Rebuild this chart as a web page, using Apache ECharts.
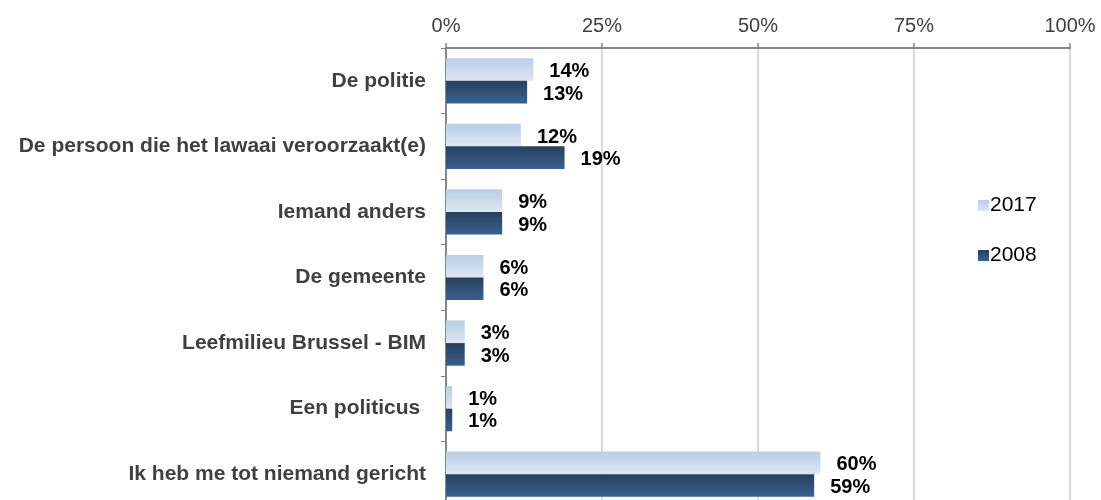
<!DOCTYPE html>
<html>
<head>
<meta charset="utf-8">
<script src="https://cdn.jsdelivr.net/npm/echarts@6/dist/echarts.min.js"></script>
<style>
  html, body { margin: 0; padding: 0; background: #fff; }
  #chart { width: 1101px; height: 500px; }
</style>
</head>
<body>
<div id="chart"></div>
<script>
var categories = [
  'De politie',
  'De persoon die het lawaai veroorzaakt(e)',
  'Iemand anders',
  'De gemeente',
  'Leefmilieu Brussel - BIM',
  'Een politicus ',
  'Ik heb me tot niemand gericht'
];
var values2017 = [14, 12, 9, 6, 3, 1, 60];
var values2008 = [13, 19, 9, 6, 3, 1, 59];

var chart = echarts.init(document.getElementById('chart'));

var font = "'Liberation Sans', Arial, sans-serif";

var labelOpt = {
  show: true,
  position: 'right',
  distance: 16,
  offset: [0, 2],
  formatter: '{c}%',
  color: '#000',
  fontWeight: 'bold',
  fontSize: 20,
  fontFamily: font
};

chart.setOption({
  animation: false,
  legend: {
    orient: 'vertical',
    left: 973,
    top: 190,
    itemGap: 29,
    itemWidth: 11,
    itemHeight: 11,
    icon: 'rect',
    data: ['2017', '2008'],
    textStyle: { color: '#000', fontSize: 21, fontFamily: font, padding: [0, 0, 0, -4] }
  },
  grid: {
    left: 446,
    right: 31,
    top: 48,
    height: 459,
    outerBoundsMode: 'none'
  },
  xAxis: {
    type: 'value',
    position: 'top',
    min: 0,
    max: 100,
    interval: 25,
    axisLine: { show: true, lineStyle: { color: '#868686', width: 2 } },
    axisTick: { show: true, length: 5, lineStyle: { color: '#868686', width: 1.5 } },
    axisLabel: {
      formatter: '{value}%',
      color: '#404040',
      fontSize: 20,
      fontFamily: font,
      margin: 12
    },
    splitLine: { show: true, lineStyle: { color: '#d9d9d9', width: 2 } }
  },
  yAxis: {
    type: 'category',
    inverse: true,
    data: categories,
    axisLine: { show: true, lineStyle: { color: '#868686', width: 2 } },
    axisTick: { show: true, length: 5, lineStyle: { color: '#868686' } },
    axisLabel: {
      color: '#404040',
      fontWeight: 'bold',
      fontSize: 21,
      fontFamily: font,
      margin: 20
    }
  },
  series: [
    {
      name: '2017',
      type: 'bar',
      data: values2017,
      barGap: '0%',
      barCategoryGap: '31%',
      itemStyle: {
        color: new echarts.graphic.LinearGradient(0, 0, 0, 1, [
          { offset: 0, color: '#b9cde5' },
          { offset: 1, color: '#dde7f3' }
        ])
      },
      label: labelOpt
    },
    {
      name: '2008',
      type: 'bar',
      data: values2008,
      itemStyle: {
        color: new echarts.graphic.LinearGradient(0, 0, 0, 1, [
          { offset: 0, color: '#28405f' },
          { offset: 1, color: '#3a6090' }
        ])
      },
      label: labelOpt
    }
  ]
});
</script>
</body>
</html>
